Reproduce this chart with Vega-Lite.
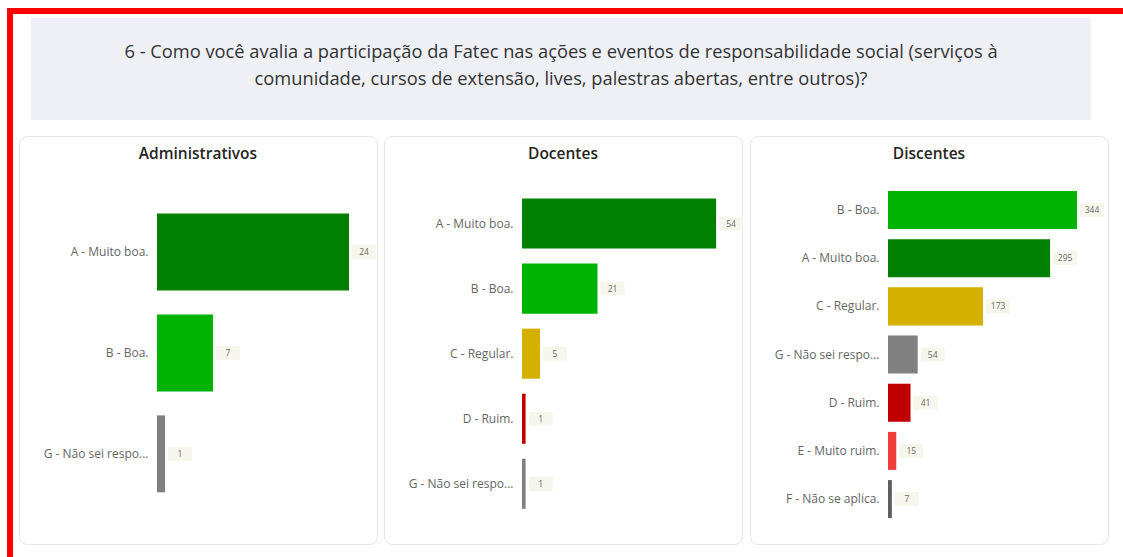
{
  "$schema": "https://vega.github.io/schema/vega-lite/v6.json",
  "background": "white",
  "padding": {"left": 7, "top": 8, "right": 0, "bottom": 0},
  "config": {"font": "Open Sans", "view": {"stroke": null}},
  "datasets": {
    "question": [
      {"line": 1, "text": "6 - Como você avalia a participação da Fatec nas ações e eventos de responsabilidade social (serviços à"},
      {"line": 2, "text": "comunidade, cursos de extensão, lives, palestras abertas, entre outros)?"}
    ],
    "responses": [
      {"group": "Administrativos", "category": "A - Muito boa.", "value": 24},
      {"group": "Administrativos", "category": "B - Boa.", "value": 7},
      {"group": "Administrativos", "category": "G - Não sei respo...", "value": 1},
      {"group": "Docentes", "category": "A - Muito boa.", "value": 54},
      {"group": "Docentes", "category": "B - Boa.", "value": 21},
      {"group": "Docentes", "category": "C - Regular.", "value": 5},
      {"group": "Docentes", "category": "D - Ruim.", "value": 1},
      {"group": "Docentes", "category": "G - Não sei respo...", "value": 1},
      {"group": "Discentes", "category": "B - Boa.", "value": 344},
      {"group": "Discentes", "category": "A - Muito boa.", "value": 295},
      {"group": "Discentes", "category": "C - Regular.", "value": 173},
      {"group": "Discentes", "category": "G - Não sei respo...", "value": 54},
      {"group": "Discentes", "category": "D - Ruim.", "value": 41},
      {"group": "Discentes", "category": "E - Muito ruim.", "value": 15},
      {"group": "Discentes", "category": "F - Não se aplica.", "value": 7}
    ],
    "blank": [{}]
  },
  "spacing": 0,
  "vconcat": [
    {
      "width": 1116, "height": 6,
      "data": {"name": "blank"},
      "mark": {"type": "point", "opacity": 0, "size": 0},
      "encoding": {},
      "view": {"fill": "#FF0000", "stroke": null}
    },
    {
      "spacing": 5,
      "hconcat": [
        {
          "width": 6, "height": 543,
          "data": {"name": "blank"},
          "mark": {"type": "point", "opacity": 0, "size": 0},
          "encoding": {},
          "view": {"fill": "#FF0000", "stroke": null}
        },
        {
          "spacing": 15,
          "vconcat": [
            {
              "spacing": 11,
              "hconcat": [
                {
                  "width": 1, "height": 1,
                  "data": {"name": "blank"},
                  "mark": {"type": "point", "opacity": 0, "size": 0},
                  "encoding": {}
                },
                {
                  "spacing": 3,
                  "vconcat": [
                    {
                      "width": 1, "height": 1,
                      "data": {"name": "blank"},
                      "mark": {"type": "point", "opacity": 0, "size": 0},
                      "encoding": {}
                    },
                    {
                      "width": 1060, "height": 102,
                      "data": {"name": "question"},
                      "view": {"fill": "#EEF0F5", "stroke": null},
                      "mark": {"type": "text", "fontSize": 18.3, "font": "Open Sans", "color": "#333333", "align": "center", "baseline": "middle"},
                      "encoding": {
                        "y": {"field": "line", "type": "ordinal", "axis": null, "scale": {"type": "band", "paddingInner": 0, "paddingOuter": 0.96, "align": 0.45}},
                        "text": {"field": "text"}
                      }
                    }
                  ]
                }
              ]
            },
            {
              "spacing": 5,
              "hconcat": [
                {
                  "width": 358, "height": 408,
                  "data": {"name": "responses"},
                  "view": {"stroke": "#E4E4E4", "cornerRadius": 8, "fill": "white"},
                  "title": {"text": "Administrativos", "offset": -26, "fontSize": 15.5, "fontWeight": 600, "font": "Open Sans", "color": "#252423", "anchor": "middle"},
                  "transform": [{"filter": "datum.group === 'Administrativos'"}],
                  "encoding": {
                    "y": {"field": "category", "type": "nominal", "sort": null, "title": null,
                      "scale": {"paddingInner": 0.238, "paddingOuter": 0.64, "align": 0.6},
                      "axis": {"offset": -138, "domain": false, "ticks": false, "labelPadding": 9, "labelFontSize": 12, "labelColor": "#666666", "labelFont": "Open Sans", "grid": false}},
                    "x": {"field": "value", "type": "quantitative", "axis": null, "scale": {"domain": [-17.25, 27.5], "zero": false, "nice": false}}
                  },
                  "layer": [
                    {"mark": {"type": "bar"},
                     "encoding": {"x2": {"datum": 0},
                       "color": {"field": "category", "type": "nominal", "legend": null,
                         "scale": {"domain": ["A - Muito boa.", "B - Boa.", "C - Regular.", "D - Ruim.", "E - Muito ruim.", "F - Não se aplica.", "G - Não sei respo..."],
                                   "range": ["#008000", "#00B300", "#D4B000", "#C00000", "#EF3E3A", "#5F5F5F", "#808080"]}}}},
                    {"mark": {"type": "point", "shape": "M-1.2,-0.7H1.2V0.7H-1.2Z", "size": 400, "filled": true, "color": "#F7F6EC", "opacity": 1, "xOffset": 15}},
                    {"mark": {"type": "text", "dx": 15, "align": "center", "baseline": "middle", "fontSize": 8.5, "color": "#666666"},
                     "encoding": {"text": {"field": "value", "type": "quantitative"}}}
                  ]
                },
                {
                  "width": 358, "height": 408,
                  "data": {"name": "responses"},
                  "view": {"stroke": "#E4E4E4", "cornerRadius": 8, "fill": "white"},
                  "title": {"text": "Docentes", "offset": -26, "fontSize": 15.5, "fontWeight": 600, "font": "Open Sans", "color": "#252423", "anchor": "middle"},
                  "transform": [{"filter": "datum.group === 'Docentes'"}],
                  "encoding": {
                    "y": {"field": "category", "type": "nominal", "sort": null, "title": null,
                      "scale": {"paddingInner": 0.23, "paddingOuter": 0.75, "align": 0.64},
                      "axis": {"offset": -138, "domain": false, "ticks": false, "labelPadding": 9, "labelFontSize": 12, "labelColor": "#666666", "labelFont": "Open Sans", "grid": false}},
                    "x": {"field": "value", "type": "quantitative", "axis": null, "scale": {"domain": [-38.4, 61.2], "zero": false, "nice": false}}
                  },
                  "layer": [
                    {"mark": {"type": "bar"},
                     "encoding": {"x2": {"datum": 0},
                       "color": {"field": "category", "type": "nominal", "legend": null,
                         "scale": {"domain": ["A - Muito boa.", "B - Boa.", "C - Regular.", "D - Ruim.", "E - Muito ruim.", "F - Não se aplica.", "G - Não sei respo..."],
                                   "range": ["#008000", "#00B300", "#D4B000", "#C00000", "#EF3E3A", "#5F5F5F", "#808080"]}}}},
                    {"mark": {"type": "point", "shape": "M-1.2,-0.7H1.2V0.7H-1.2Z", "size": 400, "filled": true, "color": "#F7F6EC", "opacity": 1, "xOffset": 15}},
                    {"mark": {"type": "text", "dx": 15, "align": "center", "baseline": "middle", "fontSize": 8.5, "color": "#666666"},
                     "encoding": {"text": {"field": "value", "type": "quantitative"}}}
                  ]
                },
                {
                  "width": 358, "height": 408,
                  "data": {"name": "responses"},
                  "view": {"stroke": "#E4E4E4", "cornerRadius": 8, "fill": "white"},
                  "title": {"text": "Discentes", "offset": -26, "fontSize": 15.5, "fontWeight": 600, "font": "Open Sans", "color": "#252423", "anchor": "middle"},
                  "transform": [{"filter": "datum.group === 'Discentes'"}],
                  "encoding": {
                    "y": {"field": "category", "type": "nominal", "sort": null, "title": null,
                      "scale": {"paddingInner": 0.21, "paddingOuter": 0.84, "align": 0.68},
                      "axis": {"offset": -138, "domain": false, "ticks": false, "labelPadding": 9, "labelFontSize": 12, "labelColor": "#666666", "labelFont": "Open Sans", "grid": false}},
                    "x": {"field": "value", "type": "quantitative", "axis": null, "scale": {"domain": [-251.2, 400.4], "zero": false, "nice": false}}
                  },
                  "layer": [
                    {"mark": {"type": "bar"},
                     "encoding": {"x2": {"datum": 0},
                       "color": {"field": "category", "type": "nominal", "legend": null,
                         "scale": {"domain": ["A - Muito boa.", "B - Boa.", "C - Regular.", "D - Ruim.", "E - Muito ruim.", "F - Não se aplica.", "G - Não sei respo..."],
                                   "range": ["#008000", "#00B300", "#D4B000", "#C00000", "#EF3E3A", "#5F5F5F", "#808080"]}}}},
                    {"mark": {"type": "point", "shape": "M-1.2,-0.7H1.2V0.7H-1.2Z", "size": 400, "filled": true, "color": "#F7F6EC", "opacity": 1, "xOffset": 15}},
                    {"mark": {"type": "text", "dx": 15, "align": "center", "baseline": "middle", "fontSize": 8.5, "color": "#666666"},
                     "encoding": {"text": {"field": "value", "type": "quantitative"}}}
                  ]
                }
              ]
            }
          ]
        }
      ]
    }
  ]
}
